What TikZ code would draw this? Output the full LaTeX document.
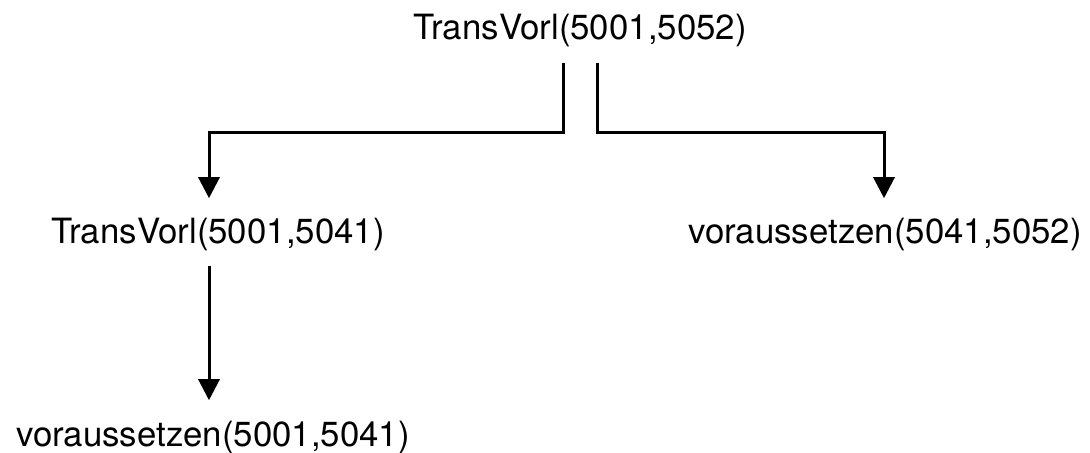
\documentclass[tikz,border=0pt]{standalone}
\usepackage{fontspec}
\setmainfont{TeX Gyre Heros}
\usetikzlibrary{arrows.meta}

\begin{document}
\begin{tikzpicture}[x=0.5pt, y=0.5pt,
    lbl/.style={anchor=base, inner sep=0pt, font=\fontsize{17.4}{21}\selectfont},
    arr/.style={-{Triangle[length=10.5pt, width=10.5pt]}, line width=1.5pt}]
    \useasboundingbox (0,0) rectangle (1090,-452);

    % Call tree
    \node[lbl] (root) at (580,-39)  {TransVorl(5001,5052)};
    \node[lbl] (tl)   at (218,-243) {TransVorl(5001,5041)};
    \node[lbl] (tr)   at (885,-243) {voraussetzen(5041,5052)};
    \node[lbl] (bl)   at (213,-446) {voraussetzen(5001,5041)};

    % Branches of the root
    \draw[arr] ([xshift=-8.5pt, yshift=-8pt]root.south) -- ++(0,-70)
        -| ([xshift=-4.5pt, yshift=9.5pt]tl.north);
    \draw[arr] ([xshift=8.5pt, yshift=-8pt]root.south) -- ++(0,-70)
        -| ([xshift=-0.5pt, yshift=9.5pt]tr.north);

    % Left branch down
    \draw[arr] ([xshift=-4.5pt, yshift=-7.5pt]tl.south)
        -- ([xshift=-2pt, yshift=10pt]bl.north);
\end{tikzpicture}
\end{document}
